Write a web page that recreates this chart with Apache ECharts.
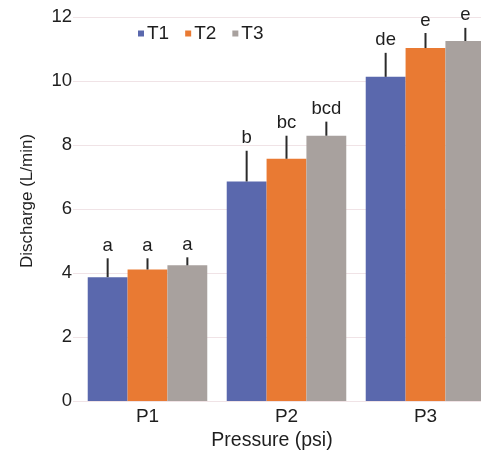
<!DOCTYPE html>
<html>
<head>
<meta charset="utf-8">
<script src="https://cdn.jsdelivr.net/npm/echarts@6/dist/echarts.min.js"></script>
<style>
  html, body { margin: 0; padding: 0; background: #fff; overflow: hidden; }
  /* the original figure is cropped on the right, so the chart is a bit wider than the window */
  #chart { width: 495px; height: 453px; }
</style>
</head>
<body>
<div id="chart"></div>
<script>
  // 数据
  const categories = ['P1', 'P2', 'P3']
  const seriesNames = ['T1', 'T2', 'T3']
  const t1 = [3.87, 6.86, 10.13]
  const t2 = [4.11, 7.57, 11.03]
  const t3 = [4.24, 8.29, 11.25]
  // upper error bars (SD)
  const t1Err = [0.59, 0.96, 0.75]
  const t2Err = [0.35, 0.72, 0.47]
  const t3Err = [0.25, 0.44, 0.41]
  // significance letters
  const t1Letters = ['a', 'b', 'de']
  const t2Letters = ['a', 'bc', 'e']
  const t3Letters = ['a', 'bcd', 'e']
  const yTicks = [0, 2, 4, 6, 8, 10, 12]

  const values = [t1, t2, t3]
  const errs = [t1Err, t2Err, t3Err]
  const letters = [t1Letters, t2Letters, t3Letters]
  const color = ['#5A68AD', '#E97A33', '#A8A19E']
  const font = '"Liberation Sans", Arial, sans-serif'
  const textColor = '#1e1e1e'
  const gridColor = '#F0E3E6'
  const catGap = 0.14

  const chart = echarts.init(document.getElementById('chart'))

  // 误差线 + 字母
  function errorSeries(k) {
    return {
      type: 'custom',
      name: 'err' + k,
      z: 5,
      clip: false,
      data: categories.map((c, i) => [i, values[k][i], values[k][i] + errs[k][i]]),
      encode: { x: 0, y: 2 },
      renderItem(params, api) {
        const catW = api.size([1, 0])[0]
        const barW = catW * (1 - catGap) / 3
        const base = api.coord([api.value(0), api.value(1)])
        const top = api.coord([api.value(0), api.value(2)])
        const x = base[0] + (k - 1) * barW
        return {
          type: 'group',
          children: [
            {
              type: 'line',
              shape: { x1: x, y1: base[1], x2: x, y2: top[1] },
              style: { stroke: '#2b2b2b', lineWidth: 2 }
            },
            {
              type: 'text',
              x: x,
              y: top[1] - 3,
              style: {
                text: letters[k][params.dataIndex],
                fill: textColor,
                font: '18.5px ' + font,
                align: 'center',
                verticalAlign: 'bottom'
              }
            }
          ]
        }
      }
    }
  }

  const option = {
    animation: false,
    backgroundColor: '#fff',
    textStyle: { fontFamily: font },
    legend: {
      data: seriesNames,
      left: 133,
      top: 19,
      icon: 'rect',
      itemWidth: 6,
      itemHeight: 6,
      itemGap: 16,
      textStyle: { fontSize: 19, color: textColor, fontFamily: font, padding: [0, 0, 0, -2] }
    },
    grid: {
      left: 78,
      right: 0,
      top: 17,
      bottom: 52
    },
    xAxis: {
      type: 'category',
      data: categories,
      axisTick: { show: false },
      axisLine: { show: true, lineStyle: { color: gridColor, width: 1 } },
      axisLabel: { color: textColor, fontSize: 19, margin: 6, fontFamily: font }
    },
    yAxis: {
      type: 'value',
      min: yTicks[0],
      max: yTicks[yTicks.length - 1],
      interval: 2,
      axisLine: { show: false },
      axisTick: { show: true, length: 5, lineStyle: { color: gridColor } },
      splitLine: { show: true, lineStyle: { color: gridColor, width: 1 } },
      axisLabel: { color: textColor, fontSize: 18.5, margin: 6, fontFamily: font }
    },
    graphic: [
      {
        type: 'text',
        x: 27,
        y: 201,
        rotation: Math.PI / 2,
        style: {
          text: 'Discharge (L/min)',
          font: '17px ' + font,
          fill: textColor,
          align: 'center',
          verticalAlign: 'middle'
        }
      },
      {
        type: 'text',
        x: 272,
        y: 441,
        style: {
          text: 'Pressure (psi)',
          font: '19.5px ' + font,
          fill: textColor,
          align: 'center',
          verticalAlign: 'middle'
        }
      }
    ],
    series: seriesNames.map((name, k) => ({
      type: 'bar',
      name: name,
      data: values[k],
      barGap: 0,
      barCategoryGap: (catGap * 100) + '%',
      itemStyle: { color: color[k] }
    })).concat([0, 1, 2].map(errorSeries))
  }

  chart.setOption(option)
</script>
</body>
</html>
